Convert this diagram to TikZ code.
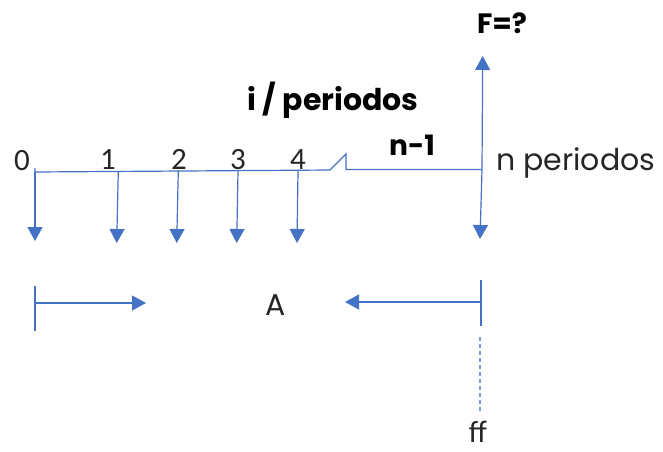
\documentclass[tikz,border=0pt]{standalone}
\usepackage{fontspec}
\setmainfont{Poppins}
\newfontfamily\digitfont{Carlito}
\usetikzlibrary{arrows.meta}
\definecolor{lineblue}{HTML}{4472C4}
\tikzset{
  bl/.style={draw=lineblue, line width=1.2pt},
  arr/.style={bl, -{Triangle[width=15pt,length=14pt]}},
  num/.style={font=\digitfont\fontsize{31}{31}\selectfont, inner sep=0pt, text=black!85, anchor=base},
  lbl/.style={font=\fontsize{30}{30}\selectfont, inner sep=0pt, text=black!85, anchor=base},
  blbl/.style={font=\bfseries\fontsize{28}{28}\selectfont, inner sep=0pt, anchor=base},
}
\begin{document}
\begin{tikzpicture}[x=1pt,y=-1pt]
\useasboundingbox (0,0) rectangle (663,451);
% timeline coordinates
\coordinate (t0) at (35,172);
\coordinate (t0u) at (35,168);
\coordinate (t1) at (118.3,171.2);
\coordinate (t2) at (178.3,170.8);
\coordinate (t3) at (238,170.6);
\coordinate (t4) at (298,170.3);
\coordinate (b1) at (330,170);
\coordinate (b2) at (346,154);
\coordinate (b3) at (346,169.5);
\coordinate (tn) at (482,169.5);
% down arrow ends
\coordinate (d0) at (35,241);
\coordinate (d1) at (116.7,243);
\coordinate (d2) at (176.7,243);
\coordinate (d3) at (236.7,243);
\coordinate (d4) at (297,243);
\coordinate (dn) at (480,239);
\coordinate (up) at (482.7,56);
% timeline
\draw[bl] (t0u) -- (t0) -- (b1) -- (b2) -- (b3) -- (tn);
\foreach \a/\b in {t0/d0,t1/d1,t2/d2,t3/d3,t4/d4,tn/dn,tn/up}
  \draw[arr] (\a) -- (\b);
% labels
\node[num] (n0) at (22,170) {0};
\node[num] (n1) at (108,169) {1};
\node[num] (n2) at (179,169) {2};
\node[num] (n3) at (238,169) {3};
\node[num] (n4) at (298,169) {4};
\node[lbl, anchor=base west] (np) at (496,170) {n periodos};
\node[blbl] (F) at (502,33) {F=?};
\node[blbl, font=\bfseries\fontsize{30}{30}\selectfont] (ip) at (333,110) {i / periodos};
\node[blbl] (n1l) at (412,155) {n-1};
% bottom
\coordinate (l1) at (35,286);
\coordinate (l2) at (35,331);
\coordinate (la) at (35,303);
\coordinate (lb) at (146,303);
\coordinate (r1) at (481,280);
\coordinate (r2) at (481,326);
\coordinate (ra) at (481,302);
\coordinate (rb) at (345,302);
\coordinate (f1) at (480,337);
\coordinate (f2) at (480,413);
\draw[bl] (l1) -- (l2);
\draw[bl] (r1) -- (r2);
\draw[arr] (la) -- (lb);
\draw[arr] (ra) -- (rb);
\draw[bl, dashed, dash pattern=on 4pt off 3pt, draw=lineblue!70] (f1) -- (f2);
\node[lbl] (A) at (276,315) {A};
\node[num] (ff) at (478,442) {ff};
\end{tikzpicture}
\end{document}
